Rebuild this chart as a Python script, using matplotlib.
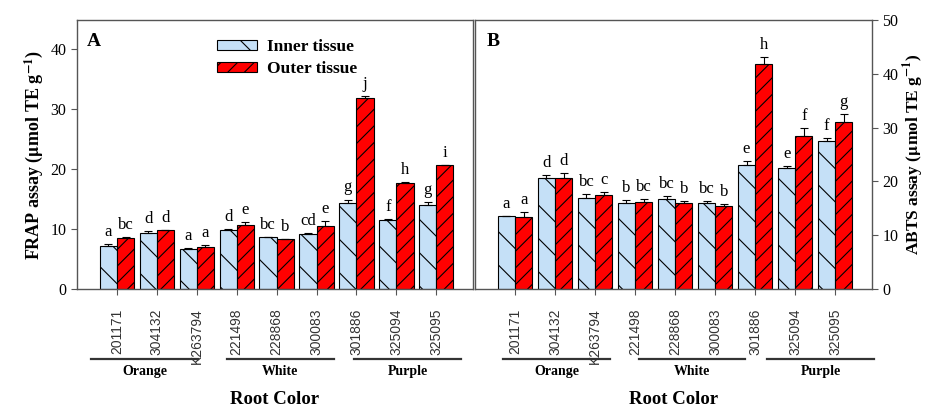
import numpy as np
import matplotlib
matplotlib.use('Agg')
import matplotlib.pyplot as plt
import matplotlib.transforms as mtransforms

plt.rcParams['font.family'] = 'Liberation Serif'
plt.rcParams['mathtext.fontset'] = 'stix'
plt.rcParams['hatch.linewidth'] = 0.8

genotypes = ['201171', '304132', 'K263794', '221498', '228868', '300083',
             '301886', '325094', '325095']
colors = ['Orange', 'White', 'Purple']

# FRAP (panel A)
frap_inner = [7.1, 9.4, 6.7, 9.9, 8.6, 9.2, 14.3, 11.5, 14.0]
frap_inner_err = [0.4, 0.3, 0.2, 0.1, 0.1, 0.1, 0.6, 0.2, 0.5]
frap_outer = [8.5, 9.8, 7.0, 10.7, 8.3, 10.55, 31.8, 17.6, 20.6]
frap_outer_err = [0.1, 0.1, 0.4, 0.4, 0.1, 0.8, 0.3, 0.2, 0.1]
frap_inner_lbl = ['a', 'd', 'a', 'd', 'bc', 'cd', 'g', 'f', 'g']
frap_outer_lbl = ['bc', 'd', 'a', 'e', 'b', 'e', 'j', 'h', 'i']

# ABTS (panel B)
abts_inner = [13.5, 20.6, 17.0, 16.0, 16.8, 16.0, 23.1, 22.4, 27.5]
abts_inner_err = [0.1, 0.5, 0.7, 0.5, 0.4, 0.3, 0.6, 0.5, 0.5]
abts_outer = [13.4, 20.6, 17.5, 16.2, 15.9, 15.5, 41.9, 28.5, 31.0]
abts_outer_err = [0.9, 0.9, 0.5, 0.6, 0.4, 0.3, 1.3, 1.4, 1.5]
abts_inner_lbl = ['a', 'd', 'bc', 'b', 'bc', 'bc', 'e', 'e', 'f']
abts_outer_lbl = ['a', 'd', 'c', 'bc', 'b', 'b', 'h', 'f', 'g']

inner_col = '#C5E0F7'
outer_col = '#FF0000'
frame_col = '#555555'
width = 0.43

fig = plt.figure(figsize=(9.27, 4.08), dpi=100)
axA = fig.add_axes([0.0831, 0.2917, 0.4272, 0.6593])
axB = fig.add_axes([0.5124, 0.2917, 0.4283, 0.6593])

X = np.arange(len(genotypes))


def draw_panel(ax, inner, ierr, outer, oerr, ilbl, olbl, ymax, spans):
    ax.bar(X - width / 2, inner, width, color=inner_col, edgecolor='black',
           linewidth=0.8, hatch='\\', label='Inner tissue')
    ax.bar(X + width / 2, outer, width, color=outer_col, edgecolor='black',
           linewidth=0.8, hatch='//', label='Outer tissue')
    ax.errorbar(X - width / 2, inner, yerr=[np.zeros(len(X)), ierr], fmt='none',
                ecolor='black', elinewidth=0.8, capsize=3, capthick=0.8)
    ax.errorbar(X + width / 2, outer, yerr=[np.zeros(len(X)), oerr], fmt='none',
                ecolor='black', elinewidth=0.8, capsize=3, capthick=0.8)
    off = ymax * 0.015
    for i in range(len(X)):
        ax.text(X[i] - width / 2, inner[i] + ierr[i] + off, ilbl[i],
                ha='center', va='bottom', fontsize=12)
        ax.text(X[i] + width / 2, outer[i] + oerr[i] + off, olbl[i],
                ha='center', va='bottom', fontsize=12)
    ax.set_xlim(-1.0, 8.92)
    ax.set_ylim(0, ymax)
    ax.set_xticks(X)
    ax.set_xticklabels(genotypes, rotation=90, family='Liberation Sans',
                       fontsize=10, color='#333333')
    ax.tick_params(axis='x', direction='out', length=4, pad=10, color=frame_col)
    ax.tick_params(axis='y', direction='out', length=4, labelsize=11.5,
                   color=frame_col)
    for s in ax.spines.values():
        s.set_color(frame_col)
        s.set_linewidth(1.0)
    trans = mtransforms.blended_transform_factory(ax.transData, ax.transAxes)
    for (x0, x1), name in zip(spans, colors):
        ax.plot([x0, x1], [-0.26, -0.26], color='#333333', lw=1.6,
                transform=trans, clip_on=False)
        ax.text((x0 + x1) / 2, -0.305, name, transform=trans, ha='center',
                va='center', fontsize=10, fontweight='bold')
    ax.text(0.5, -0.41, 'Root Color', transform=ax.transAxes, ha='center',
            va='center', fontsize=13.5, fontweight='bold')


draw_panel(axA, frap_inner, frap_inner_err, frap_outer, frap_outer_err,
           frap_inner_lbl, frap_outer_lbl, 44.8,
           [(-0.65, 2.03), (2.75, 5.43), (5.95, 8.63)])
draw_panel(axB, abts_inner, abts_inner_err, abts_outer, abts_outer_err,
           abts_inner_lbl, abts_outer_lbl, 50,
           [(-0.3, 2.38), (3.1, 5.75), (6.3, 8.98)])

axA.set_yticks([0, 10, 20, 30, 40])
axA.set_ylabel(r'FRAP assay ($\mathbf{\mu}$mol TE g$^{\mathbf{-1}}$)',
               fontsize=13, fontweight='bold', labelpad=4)

axB.set_yticks([0, 10, 20, 30, 40, 50])
axB.yaxis.tick_right()
axB.yaxis.set_label_position('right')
axB.set_ylabel(r'ABTS assay ($\mathbf{\mu}$mol TE g$^{\mathbf{-1}}$)',
               fontsize=12.5, fontweight='bold', labelpad=2)

axA.text(0.025, 0.92, 'A', transform=axA.transAxes, fontsize=14,
         fontweight='bold', va='center')
axB.text(0.03, 0.92, 'B', transform=axB.transAxes, fontsize=14,
         fontweight='bold', va='center')

axA.legend(loc='upper left', bbox_to_anchor=(0.322, 0.975), frameon=False,
           prop={'weight': 'bold', 'size': 12.5}, handlelength=2.3,
           handleheight=0.5, labelspacing=0.35, handletextpad=0.6,
           borderpad=0.2)

fig.savefig('out.png', dpi=100)
